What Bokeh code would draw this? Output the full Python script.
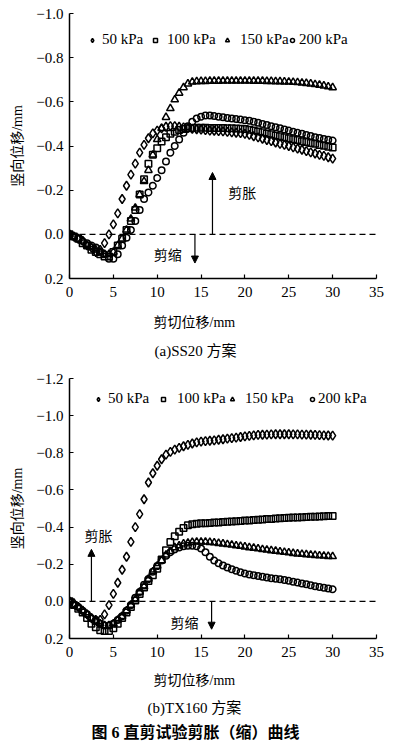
from bokeh.plotting import figure
from bokeh.models import (Range1d, FixedTicker, CustomJSTickFormatter, Span, Arrow,
                          NormalHead, Label, Legend, LegendItem, ColumnDataSource, Title)
from bokeh.layouts import column
from bokeh.embed import file_html
from bokeh.resources import INLINE

# ---------------- data ----------------
shear_mm = [0.0, 0.5, 1.0, 1.5, 2.0, 2.5, 3.0, 3.5, 4.0, 4.5, 5.0, 5.5, 6.0, 6.5, 7.0, 7.5,
            8.0, 8.5, 9.0, 9.5, 10.0, 10.5, 11.0, 11.5, 12.0, 12.5, 13.0, 13.5, 14.0, 14.5,
            15.0, 15.5, 16.0, 16.5, 17.0, 17.5, 18.0, 18.5, 19.0, 19.5, 20.0, 20.5, 21.0,
            21.5, 22.0, 22.5, 23.0, 23.5, 24.0, 24.5, 25.0, 25.5, 26.0, 26.5, 27.0, 27.5,
            28.0, 28.5, 29.0, 29.5, 30.0]

series_labels = ["50 kPa", "100 kPa", "150 kPa", "200 kPa"]

# (a) SS20
ss20_50 = [0.00, 0.01, 0.02, 0.03, 0.05, 0.06, 0.08, 0.07, 0.04, 0.00, -0.045, -0.095, -0.16,
           -0.22, -0.27, -0.32, -0.37, -0.405, -0.435, -0.457, -0.47, -0.48, -0.487, -0.49,
           -0.49, -0.487, -0.484, -0.481, -0.478, -0.476, -0.474, -0.472, -0.47, -0.469,
           -0.467, -0.466, -0.464, -0.462, -0.46, -0.458, -0.455, -0.45, -0.444, -0.439,
           -0.433, -0.427, -0.422, -0.416, -0.41, -0.405, -0.40, -0.394, -0.388, -0.383,
           -0.377, -0.371, -0.366, -0.36, -0.355, -0.349, -0.343]
ss20_100 = [0.00, 0.01, 0.02, 0.04, 0.05, 0.07, 0.08, 0.09, 0.10, 0.10, 0.08, 0.05, 0.02,
            -0.02, -0.06, -0.11, -0.18, -0.25, -0.32, -0.36, -0.39, -0.42, -0.44, -0.455,
            -0.465, -0.472, -0.477, -0.48, -0.482, -0.483, -0.483, -0.483, -0.482, -0.482,
            -0.481, -0.481, -0.48, -0.48, -0.479, -0.478, -0.477, -0.474, -0.47, -0.466,
            -0.462, -0.457, -0.453, -0.448, -0.444, -0.44, -0.435, -0.431, -0.427, -0.422,
            -0.418, -0.414, -0.41, -0.405, -0.401, -0.397, -0.393]
ss20_150 = [0.00, 0.01, 0.02, 0.03, 0.05, 0.06, 0.07, 0.08, 0.09, 0.09, 0.08, 0.05, 0.02,
            -0.02, -0.07, -0.12, -0.18, -0.24, -0.29, -0.36, -0.43, -0.48, -0.53, -0.57,
            -0.61, -0.64, -0.665, -0.682, -0.69, -0.692, -0.693, -0.693, -0.694, -0.694,
            -0.694, -0.695, -0.695, -0.695, -0.695, -0.695, -0.695, -0.695, -0.694, -0.694,
            -0.694, -0.693, -0.693, -0.692, -0.692, -0.691, -0.69, -0.689, -0.688, -0.686,
            -0.684, -0.682, -0.679, -0.676, -0.673, -0.669, -0.665]
ss20_200 = [0.00, 0.01, 0.02, 0.03, 0.04, 0.05, 0.06, 0.08, 0.09, 0.11, 0.11, 0.09, 0.05,
            0.015, -0.02, -0.06, -0.11, -0.16, -0.19, -0.22, -0.255, -0.29, -0.33, -0.37,
            -0.40, -0.43, -0.46, -0.49, -0.51, -0.525, -0.533, -0.538, -0.538, -0.536,
            -0.533, -0.53, -0.527, -0.525, -0.522, -0.52, -0.517, -0.514, -0.51, -0.505,
            -0.50, -0.495, -0.49, -0.485, -0.48, -0.475, -0.47, -0.465, -0.46, -0.455,
            -0.45, -0.445, -0.44, -0.436, -0.432, -0.428, -0.425]

# (b) TX160
tx160_50 = [0.00, 0.01, 0.03, 0.05, 0.07, 0.09, 0.10, 0.10, 0.07, 0.02, -0.04, -0.10, -0.17,
            -0.24, -0.32, -0.40, -0.47, -0.55, -0.64, -0.69, -0.73, -0.765, -0.79, -0.805,
            -0.817, -0.826, -0.835, -0.843, -0.85, -0.856, -0.86, -0.863, -0.865, -0.867,
            -0.87, -0.873, -0.876, -0.879, -0.882, -0.885, -0.888, -0.891, -0.894, -0.896,
            -0.897, -0.898, -0.899, -0.90, -0.90, -0.90, -0.90, -0.899, -0.899, -0.898,
            -0.898, -0.897, -0.896, -0.895, -0.894, -0.893, -0.892]
tx160_100 = [0.00, 0.02, 0.04, 0.06, 0.09, 0.12, 0.14, 0.155, 0.16, 0.16, 0.145, 0.12, 0.09,
             0.06, 0.03, -0.005, -0.04, -0.075, -0.11, -0.14, -0.175, -0.225, -0.275, -0.32,
             -0.35, -0.375, -0.395, -0.41, -0.415, -0.418, -0.42, -0.42, -0.422, -0.424,
             -0.425, -0.427, -0.428, -0.43, -0.432, -0.433, -0.435, -0.436, -0.438, -0.44,
             -0.441, -0.443, -0.444, -0.446, -0.447, -0.449, -0.45, -0.451, -0.452, -0.453,
             -0.454, -0.455, -0.456, -0.457, -0.458, -0.459, -0.46]
tx160_150 = [0.00, 0.02, 0.03, 0.05, 0.07, 0.09, 0.11, 0.12, 0.13, 0.13, 0.12, 0.10, 0.08,
             0.05, 0.02, -0.01, -0.05, -0.08, -0.12, -0.16, -0.19, -0.22, -0.25, -0.27,
             -0.29, -0.30, -0.31, -0.315, -0.318, -0.32, -0.32, -0.32, -0.318, -0.316,
             -0.313, -0.31, -0.307, -0.304, -0.30, -0.297, -0.294, -0.29, -0.287, -0.284,
             -0.28, -0.277, -0.274, -0.271, -0.268, -0.265, -0.262, -0.259, -0.256, -0.254,
             -0.252, -0.25, -0.248, -0.246, -0.245, -0.243, -0.242]
tx160_200 = [0.00, 0.02, 0.03, 0.05, 0.07, 0.09, 0.10, 0.12, 0.13, 0.13, 0.12, 0.10, 0.08,
             0.05, 0.02, -0.02, -0.05, -0.09, -0.12, -0.16, -0.19, -0.22, -0.245, -0.265,
             -0.28, -0.29, -0.297, -0.30, -0.30, -0.297, -0.285, -0.265, -0.24, -0.22,
             -0.205, -0.193, -0.182, -0.173, -0.165, -0.157, -0.15, -0.145, -0.14, -0.136,
             -0.132, -0.128, -0.125, -0.122, -0.119, -0.115, -0.111, -0.106, -0.101, -0.096,
             -0.092, -0.087, -0.082, -0.077, -0.073, -0.069, -0.065]

x_ticks = [0, 5, 10, 15, 20, 25, 30, 35]
y_ticks_a = [-1.0, -0.8, -0.6, -0.4, -0.2, 0.0, 0.2]
y_ticks_b = [-1.2, -1.0, -0.8, -0.6, -0.4, -0.2, 0.0, 0.2]

# ---------------- styling ----------------
SERIF = "Liberation Serif"
CJK = "Noto Sans CJK SC"
MIXED = "'Liberation Serif', 'Noto Sans CJK SC'"
marker_styles = [("diamond", 9), ("square", 6.5), ("triangle", 7.5), ("circle", 6.5)]

fmt = CustomJSTickFormatter(code="""
    return (tick < -1e-9 ? '\\u2212' : '') + Math.abs(tick).toFixed(1);
""")


def make_panel(series, y_top, y_ticks, height, border_top, border_bottom,
               legend_pos, legend_standoffs, legend_vy, annots, captions):
    p = figure(width=395, height=height, output_backend="svg", toolbar_location=None,
               x_range=Range1d(0, 35), y_range=Range1d(0.2, y_top),
               min_border_left=69, min_border_right=19,
               min_border_top=border_top, min_border_bottom=border_bottom)
    p.outline_line_color = None
    p.grid.visible = False
    p.background_fill_color = "white"
    p.border_fill_color = "white"

    for ax in (p.xaxis[0], p.yaxis[0]):
        ax.axis_line_width = 1.5
        ax.axis_line_color = "black"
        ax.major_tick_in = 4
        ax.major_tick_out = 0
        ax.major_tick_line_width = 1.2
        ax.minor_tick_line_color = None
        ax.major_label_text_font = SERIF
        ax.major_label_text_font_size = "15px"
        ax.major_label_text_color = "black"

    p.xaxis.ticker = FixedTicker(ticks=x_ticks)
    p.xaxis.major_label_standoff = 8
    p.yaxis.ticker = FixedTicker(ticks=y_ticks)
    p.yaxis.formatter = fmt
    p.yaxis.major_label_standoff = 6
    p.yaxis.axis_label = "竖向位移/mm"
    p.yaxis.axis_label_text_font = MIXED
    p.yaxis.axis_label_text_font_size = "14px"
    p.yaxis.axis_label_text_font_style = "normal"
    p.yaxis.axis_label_text_color = "black"
    p.yaxis.axis_label_standoff = 8

    p.add_layout(Span(location=0, dimension="width", line_color="black",
                      line_width=1.2, line_dash="6 4"))

    renderers = []
    for vals, (mk, sz) in zip(series, marker_styles):
        src = ColumnDataSource(dict(x=shear_mm, y=vals))
        r = p.scatter("x", "y", source=src, marker=mk, size=sz, fill_color=None,
                      line_color="black", line_width=1.5)
        renderers.append(r)

    for lab, r, vx, so in zip(series_labels, renderers, legend_pos, legend_standoffs):
        lg = Legend(items=[LegendItem(label=lab, renderers=[r])], location=(vx, legend_vy),
                    orientation="horizontal", border_line_color=None,
                    background_fill_alpha=0, padding=0, margin=0, glyph_width=10,
                    glyph_height=14, label_height=14, label_standoff=so,
                    label_text_font=SERIF, label_text_font_size="15px",
                    label_text_color="black")
        p.add_layout(lg)

    for (txt, tx, ty, ax_, y0, y1) in annots:
        p.add_layout(Label(x=tx, y=ty, text=txt, text_font=CJK, text_font_size="14px",
                           text_align="center", text_baseline="middle", text_color="black"))
        p.add_layout(Arrow(end=NormalHead(size=7, fill_color="black", line_color="black"),
                           x_start=ax_, y_start=y0, x_end=ax_, y_end=y1,
                           line_color="black", line_width=1.2))

    for (txt, off, size, style, valign, standoff) in captions:
        p.add_layout(Title(text=txt, align="left", offset=off, text_font=MIXED,
                           text_font_size=size, text_font_style=style, text_color="black",
                           vertical_align=valign, standoff=standoff), "below")
    return p


pa = make_panel([ss20_50, ss20_100, ss20_150, ss20_200], -1.0, y_ticks_a, 364, 13, 86,
                [18, 81, 153, 218], [5, 7, 8, 2], 230,
                [("剪胀", 19.7, -0.19, 16.3, 0.0, -0.28), ("剪缩", 11.2, 0.09, 14.3, 0.0, 0.13)],
                [("剪切位移/mm", 84, "14px", "normal", "bottom", 26),
                 ("(a)SS20 方案", 85, "15px", "normal", "top", 0)])

pb = make_panel([tx160_50, tx160_100, tx160_150, tx160_200], -1.2, y_ticks_b, 384, 14, 110,
                [24, 89, 158, 238], [5, 9, 8, 1], 231,
                [("剪胀", 3.3, -0.36, 2.5, 0.0, -0.28), ("剪缩", 13.1, 0.11, 16.2, 0.0, 0.15)],
                [("剪切位移/mm", 84, "14px", "normal", "bottom", 23),
                 ("(b)TX160 方案", 78, "15px", "normal", "top", 0),
                 ("图 6  直剪试验剪胀（缩）曲线", 22, "16px", "bold", "bottom", 9)])

layout = column(pa, pb, spacing=0)
open("out.html", "w").write(file_html(layout, INLINE))
